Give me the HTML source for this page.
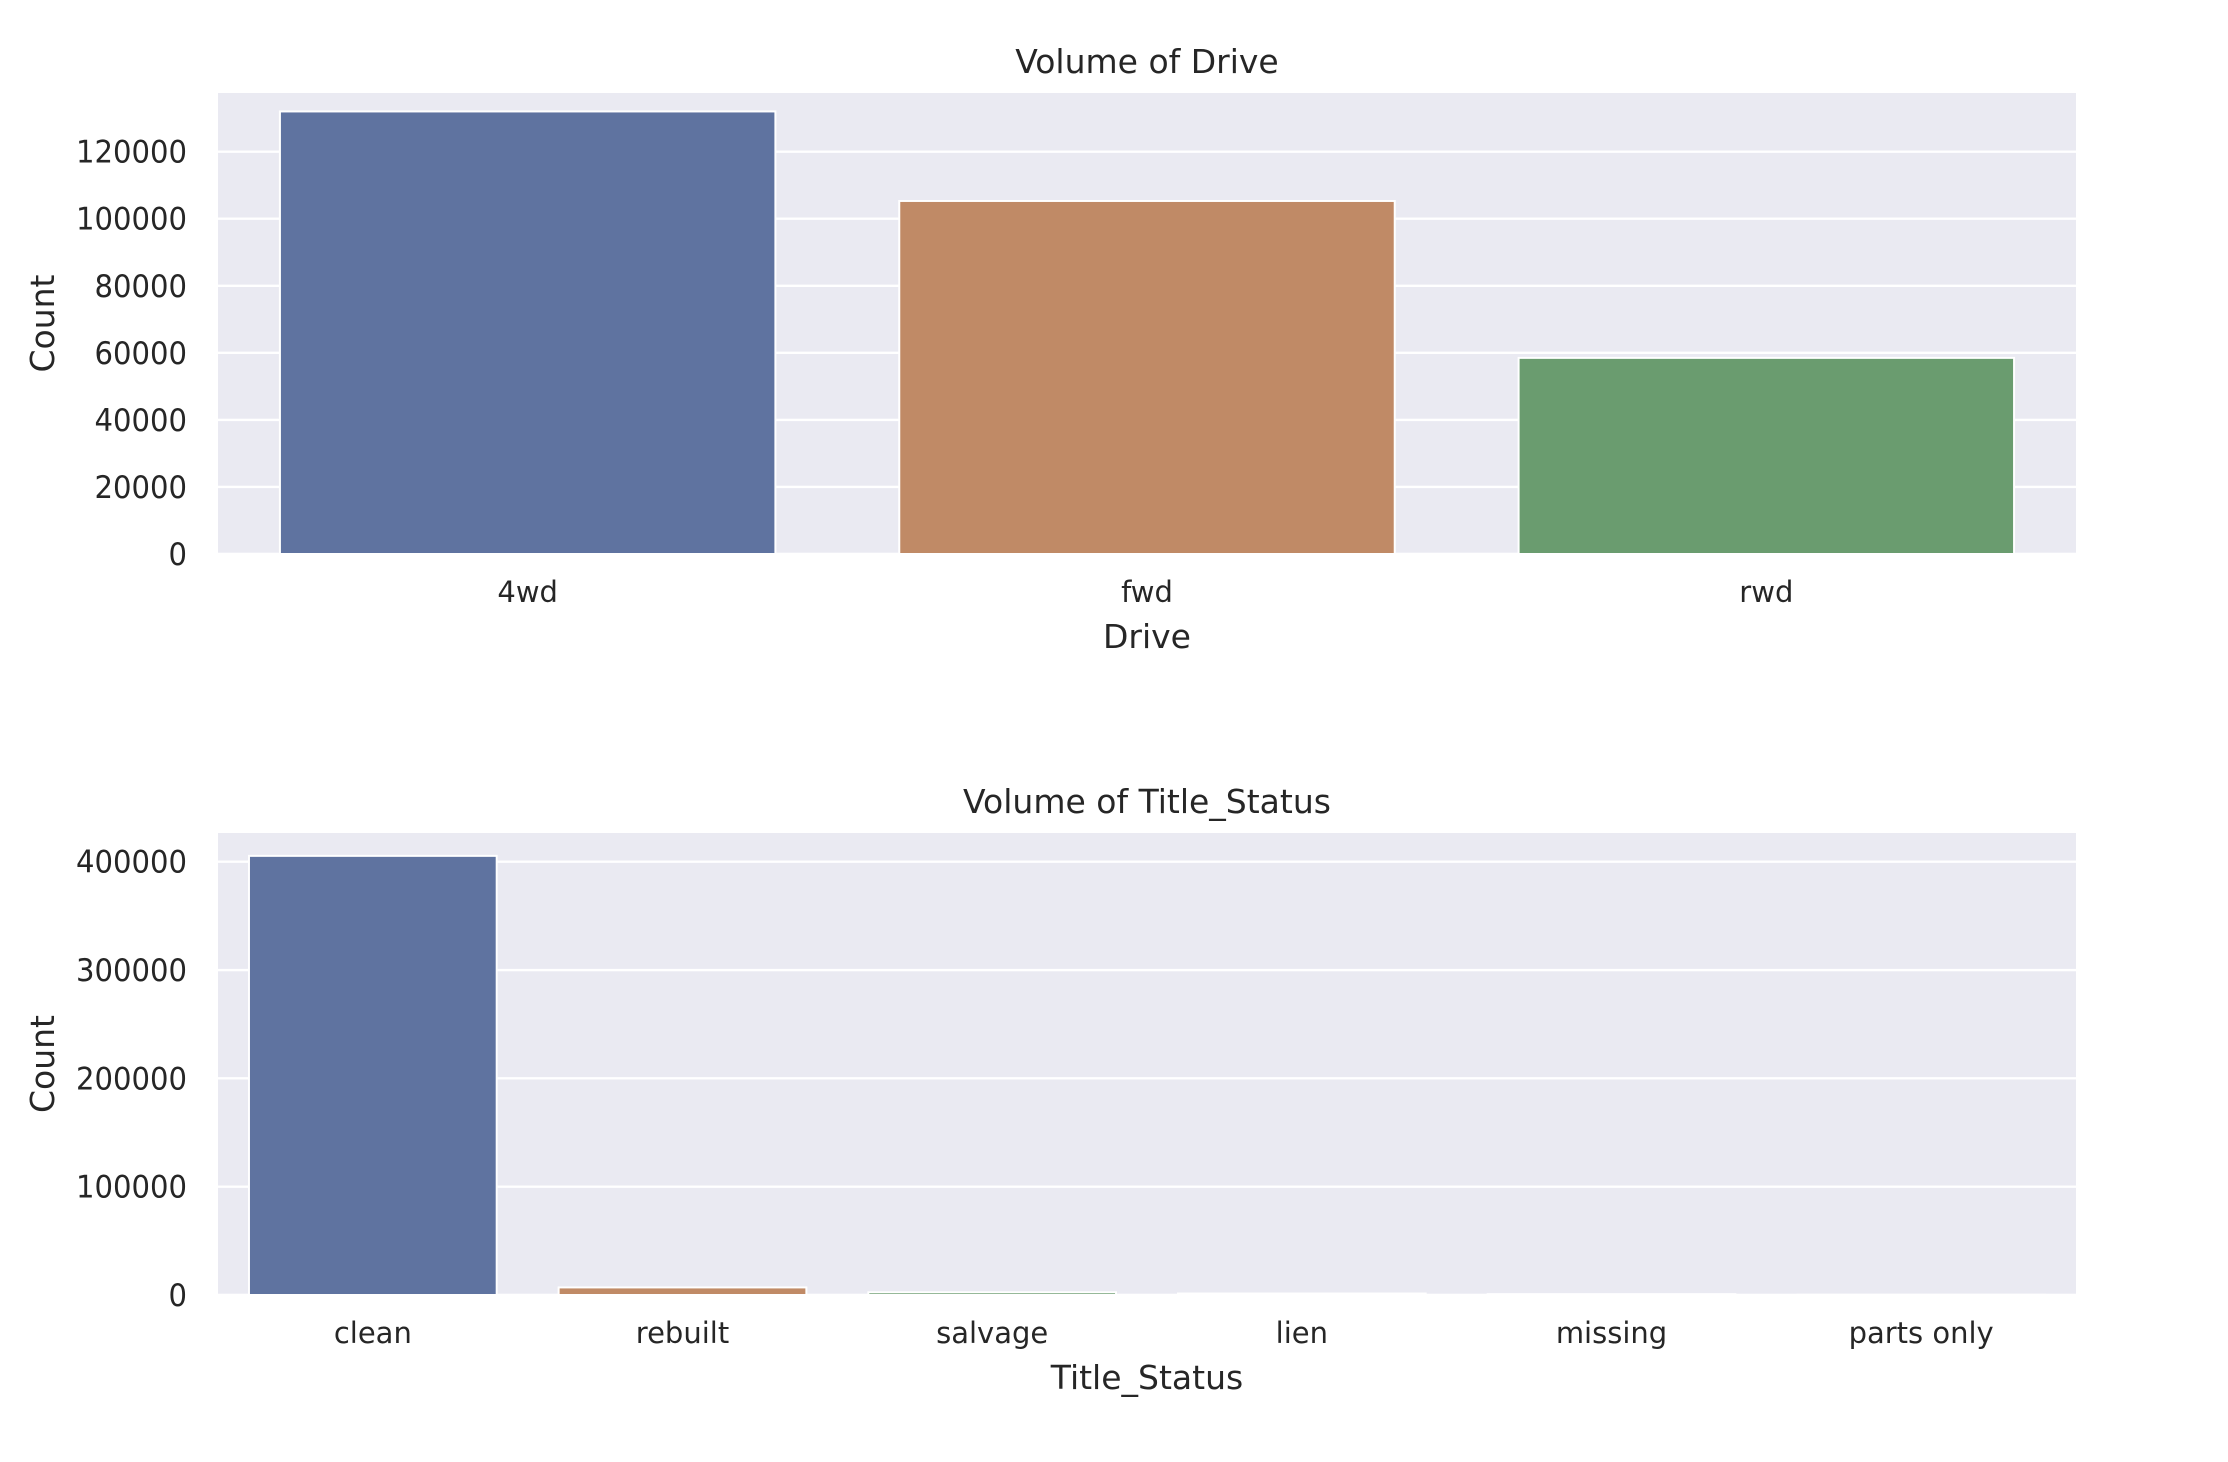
<!DOCTYPE html>
<html><head><meta charset="utf-8"><style>
html,body{margin:0;padding:0;background:#fff;}
svg{display:block;font-family:"DejaVu Sans","Liberation Sans",sans-serif;}
</style></head><body>
<svg id="chart" width="2228" height="1462" viewBox="0 0 2228 1462"></svg>
<script>
const driveCategories = ["4wd","fwd","rwd"];
const driveValues = [132000, 105300, 58500];
const driveTicks = [0,20000,40000,60000,80000,100000,120000];
const titleCategories = ["clean","rebuilt","salvage","lien","missing","parts only"];
const titleValues = [405400, 7000, 2500, 1400, 800, 200];
const titleTicks = [0,100000,200000,300000,400000];
const palette = ["#5f73a0","#c08a66","#6a9c6f","#b55d60","#857aab","#8d7866"];

const NS = "http://www.w3.org/2000/svg";
const svg = document.getElementById("chart");
function mk(tag, attrs, parent){
  const e = document.createElementNS(NS, tag);
  for (const k in attrs) e.setAttribute(k, attrs[k]);
  (parent||svg).appendChild(e);
  return e;
}
function panel(opts){
  const {left,right,top,bottom,ymax,cats,vals,ticks,title,xlabel,name} = opts;
  const g = mk("g",{});
  
  
  const bg = mk("rect",{x:left,y:top,width:right-left,height:bottom-top,fill:"#eaeaf2"},g);
  
  
  const yScale = v => bottom - v/ymax*(bottom-top);
  const step = (right-left)/cats.length;
  const xScale = i => left + step*(i+0.5);
  ticks.forEach(t=>{
    const y = yScale(t);
    const gl = mk("line",{x1:left,x2:right,y1:y,y2:y,stroke:"#fff","stroke-width":2.4},g);
    
    
    const tl = mk("text",{x:left-31,y:y+11,"text-anchor":"end","font-size":31,fill:"#262626",textLength:String(t).length*18.5,lengthAdjust:"spacingAndGlyphs"},g);
    tl.textContent = t;
    
    
  });
  vals.forEach((v,i)=>{
    const w = step*0.8;
    const y = yScale(v);
    const b = mk("rect",{x:xScale(i)-w/2,y:y,width:w,height:Math.max(bottom-y,0.5),fill:palette[i%palette.length],stroke:"#fff","stroke-width":2},g);
    
    
    const xl = mk("text",{x:xScale(i),y:bottom+48,"text-anchor":"middle","font-size":29,fill:"#262626"},g);
    xl.textContent = cats[i];
    
    
  });
  const tt = mk("text",{x:(left+right)/2,y:top-20,"text-anchor":"middle","font-size":33,fill:"#262626"},g);
  tt.textContent = title;
  
  
  const xt = mk("text",{x:(left+right)/2,y:bottom+94,"text-anchor":"middle","font-size":33,fill:"#262626"},g);
  xt.textContent = xlabel;
  
  
  const cy = (top+bottom)/2;
  const yt = mk("text",{x:54,y:cy,"text-anchor":"middle","font-size":33,fill:"#262626",transform:`rotate(-90 54 ${cy})`},g);
  yt.textContent = "Count";
  
  
}
panel({left:218,right:2076,top:93,bottom:554,ymax:137500,cats:driveCategories,vals:driveValues,ticks:driveTicks,title:"Volume of Drive",xlabel:"Drive",name:"drive"});
panel({left:218,right:2076,top:833,bottom:1295,ymax:426500,cats:titleCategories,vals:titleValues,ticks:titleTicks,title:"Volume of Title_Status",xlabel:"Title_Status",name:"title-status"});
</script>
</body></html>
